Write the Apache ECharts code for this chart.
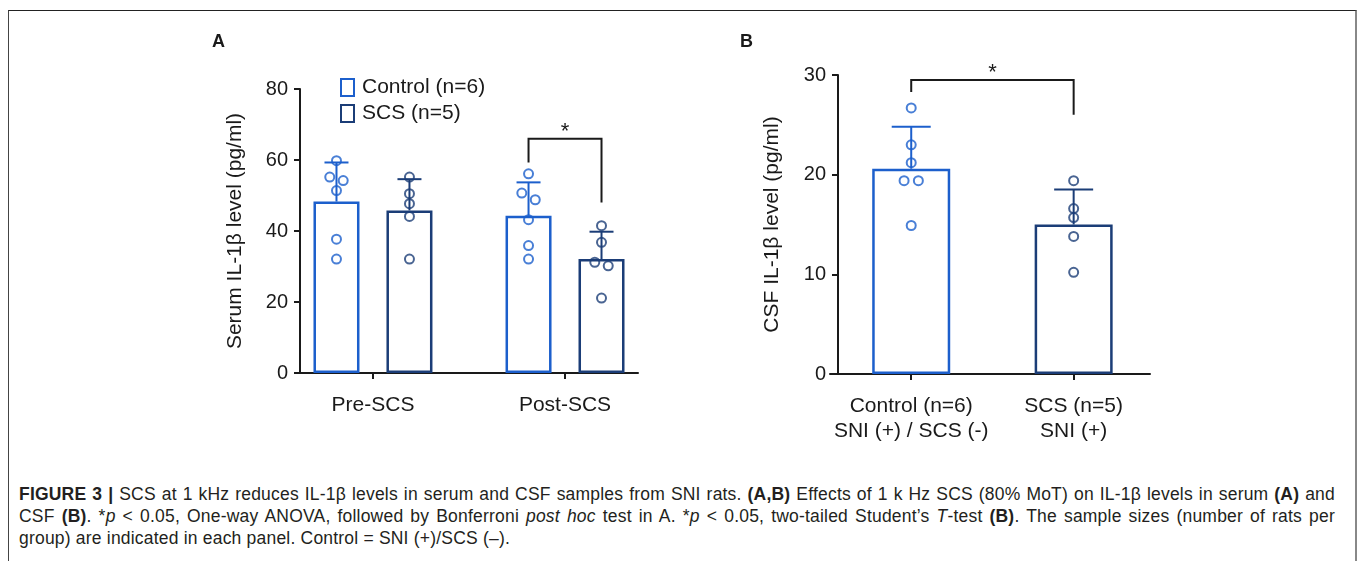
<!DOCTYPE html>
<html>
<head>
<meta charset="utf-8">
<script src="https://cdn.jsdelivr.net/npm/echarts@6/dist/echarts.min.js"></script>
<style>
body { margin: 0; background: #fff; }
#frame { position: absolute; left: 8px; top: 10px; width: 1346px; height: 600px; border-top: 1px solid #222; border-left: 1px solid #444; border-right: 2px solid #888; }
#chart { position: absolute; left: 0; top: 0; width: 1358px; height: 470px; }
#caption { position: absolute; left: 19px; top: 483px; width: 1316px; font-family: 'Liberation Sans', Arial, sans-serif; font-size: 17.5px; letter-spacing: 0.2px; line-height: 22px; color: #231f20; }
#caption div { white-space: nowrap; }
#caption .j { text-align: justify; text-align-last: justify; }
</style>
</head>
<body>
<div id="frame"></div>
<div id="chart"></div>
<div id="caption">
  <div class="j"><b>FIGURE 3 |</b> SCS at 1 kHz reduces IL-1β levels in serum and CSF samples from SNI rats. <b>(A,B)</b> Effects of 1 k Hz SCS (80% MoT) on IL-1β levels in serum <b>(A)</b> and</div>
  <div class="j">CSF <b>(B)</b>. *<i>p</i> &lt; 0.05, One-way ANOVA, followed by Bonferroni <i>post hoc</i> test in A. *<i>p</i> &lt; 0.05, two-tailed Student’s <i>T</i>-test <b>(B)</b>. The sample sizes (number of rats per</div>
  <div>group) are indicated in each panel. Control = SNI (+)/SCS (–).</div>
</div>
<script>
// panel A: serum
var groupsA = ['Pre-SCS', 'Post-SCS'];
var ctrlMeanA = [48.3, 44.3];
var ctrlSdTopA = [59.3, 53.7];
var scsMeanA = [45.8, 32.1];
var scsSdTopA = [54.6, 39.8];
var ctrlPtsA = [[59.8, 55.2, 54.2, 51.4, 37.7, 32.1], [56.1, 50.7, 48.8, 43.2, 35.9, 32.1]];
var scsPtsA = [[55.2, 50.5, 47.7, 44.1, 32.1], [41.5, 36.8, 31.2, 30.2, 21.1]];
var ticksA = [0, 20, 40, 60, 80];
var bracketA = [66, 59.3, 48];   // top, left leg end, right leg end

// panel B: CSF
var groupsB = ['Control (n=6)\nSNI (+) / SCS (-)', 'SCS (n=5)\nSNI (+)'];
var meanB = [20.6, 15.0];
var sdTopB = [24.8, 18.5];
var ptsB = [[26.7, 23.0, 21.2, 19.4, 19.4, 14.9], [19.4, 16.6, 15.7, 13.8, 10.2]];
var ticksB = [0, 10, 20, 30];
var bracketB = [29.5, 28.3, 26.0];

var BLUE = '#1c5fcc';
var NAVY = '#1b3d77';
var INK = '#1a1a1a';
var FONT = "'Liberation Sans', Arial, sans-serif";

var offA = 0.19;     // bar offset from group centre (axis units)
var jitA = 0.035, jitB = 0.044;

// spread pairs of nearly equal values left/right so the circles don't sit on top of each other
function jitterSides(vals, thr) {
    var sides = vals.map(function () { return 0; });
    var order = vals.map(function (v, i) { return i; }).sort(function (a, b) { return vals[b] - vals[a]; });
    for (var k = 0; k < order.length - 1; k++) {
        var a = order[k], b = order[k + 1];
        if (vals[a] - vals[b] < thr) { sides[a] = -1; sides[b] = 1; k++; }
    }
    return sides;
}

function pointData(ptsByGroup, offset, jit, thr) {
    var out = [];
    ptsByGroup.forEach(function (vals, g) {
        var sides = jitterSides(vals, thr);
        vals.forEach(function (v, i) { out.push([g + offset + sides[i] * jit, v]); });
    });
    return out;
}

function errorSeries(axis, data, color, capHalf) {
    return {
        type: 'custom', xAxisIndex: axis, yAxisIndex: axis, z: 3, silent: true,
        encode: { x: 0, y: [1, 2] },
        data: data,
        renderItem: function (params, api) {
            var base = api.coord([api.value(0), api.value(1)]);
            var top = api.coord([api.value(0), api.value(2)]);
            var st = { stroke: color, lineWidth: 2 };
            return { type: 'group', children: [
                { type: 'line', shape: { x1: base[0], y1: base[1], x2: top[0], y2: top[1] }, style: st },
                { type: 'line', shape: { x1: top[0] - capHalf, y1: top[1], x2: top[0] + capHalf, y2: top[1] }, style: st }
            ] };
        }
    };
}

function bracketSeries(axis, x1, x2, br) {
    return {
        type: 'custom', xAxisIndex: axis, yAxisIndex: axis, z: 5, silent: true,
        encode: { x: [0, 1], y: [2, 3, 4] },
        data: [[x1, x2, br[0], br[1], br[2]]],
        renderItem: function (params, api) {
            var l0 = api.coord([api.value(0), api.value(3)]);
            var l1 = api.coord([api.value(0), api.value(2)]);
            var r1 = api.coord([api.value(1), api.value(2)]);
            var r0 = api.coord([api.value(1), api.value(4)]);
            return { type: 'group', children: [
                { type: 'polyline', shape: { points: [l0, l1, r1, r0] }, style: { stroke: INK, lineWidth: 2, fill: null } },
                { type: 'text', x: (l1[0] + r1[0]) / 2, y: l1[1] + 4, style: { text: '*', font: '22px ' + FONT, fill: INK, align: 'center', verticalAlign: 'bottom' } }
            ] };
        }
    };
}

function barData(means, offset, color) {
    return means.map(function (m, g) {
        return { value: [g + offset, m], itemStyle: { borderColor: color } };
    });
}

function sdData(means, tops, offset) {
    return means.map(function (m, g) { return [g + offset, m, tops[g]]; });
}

function yAxisOf(grid, ticks, name, gap, shift) {
    return {
        type: 'value', gridIndex: grid, min: ticks[0], max: ticks[ticks.length - 1],
        interval: ticks[1] - ticks[0], offset: -shift,
        name: name, nameLocation: 'middle', nameGap: gap,
        nameTextStyle: { fontSize: 21, color: INK, fontFamily: FONT },
        axisLine: { show: true, onZero: false, lineStyle: { color: INK, width: 2 } },
        axisTick: { show: true, length: 6, lineStyle: { color: INK, width: 2 } },
        axisLabel: { fontSize: 20, color: INK, fontFamily: FONT, margin: 12 },
        splitLine: { show: false }
    };
}

function xAxisOf(grid, labels, min, max) {
    return {
        type: 'value', gridIndex: grid, min: min, max: max,
        axisLine: { show: true, onZero: false, lineStyle: { color: INK, width: 2 } },
        axisTick: { show: true, length: 6, customValues: [0, 1], lineStyle: { color: INK, width: 2 } },
        axisLabel: {
            customValues: [0, 1], fontSize: 21, lineHeight: 25, color: INK, fontFamily: FONT, margin: 20,
            formatter: function (v) { return labels[Math.round(v)]; }
        },
        splitLine: { show: false }
    };
}

var barStyle = { color: '#fff', borderWidth: 2.5 };
var dotStyle = { color: 'rgba(255,255,255,0)', borderWidth: 2 };

var option = {
    animation: false,
    backgroundColor: 'transparent',
    textStyle: { fontFamily: FONT },
    grid: [
        { left: 295, top: 89, width: 343, height: 284 },
        { left: 830, top: 75, width: 320, height: 299 }
    ],
    xAxis: [xAxisOf(0, groupsA, -0.406, 1.38), xAxisOf(1, groupsB, -0.5, 1.47)],
    yAxis: [yAxisOf(0, ticksA, 'Serum IL-1β level (pg/ml)', 54, 5), yAxisOf(1, ticksB, 'CSF IL-1β level (pg/ml)', 55, 8)],
    legend: {
        data: ['Control (n=6)', 'SCS (n=5)'],
        orient: 'vertical', left: 340, top: 77, padding: 0, icon: 'rect',
        itemWidth: 13, itemHeight: 17, itemGap: 5,
        textStyle: { fontSize: 21, color: INK, fontFamily: FONT, padding: [0, 0, 0, 3] }
    },
    graphic: [
        { type: 'text', left: 212, top: 33, style: { text: 'A', font: 'bold 18px ' + FONT, fill: INK } },
        { type: 'text', left: 740, top: 33, style: { text: 'B', font: 'bold 18px ' + FONT, fill: INK } }
    ],
    series: [
        { name: 'Control (n=6)', type: 'bar', xAxisIndex: 0, yAxisIndex: 0, barWidth: 46, barGap: '-100%',
          itemStyle: Object.assign({ borderColor: BLUE }, barStyle), data: barData(ctrlMeanA, -offA, BLUE) },
        { name: 'SCS (n=5)', type: 'bar', xAxisIndex: 0, yAxisIndex: 0, barWidth: 46, barGap: '-100%',
          itemStyle: Object.assign({ borderColor: NAVY }, barStyle), data: barData(scsMeanA, offA, NAVY) },
        errorSeries(0, sdData(ctrlMeanA, ctrlSdTopA, -offA), BLUE, 12),
        errorSeries(0, sdData(scsMeanA, scsSdTopA, offA), NAVY, 12),
        { name: 'ctrl points A', type: 'scatter', xAxisIndex: 0, yAxisIndex: 0, z: 4, symbolSize: 9,
          itemStyle: Object.assign({ borderColor: BLUE }, dotStyle), data: pointData(ctrlPtsA, -offA, jitA, 2) },
        { name: 'scs points A', type: 'scatter', xAxisIndex: 0, yAxisIndex: 0, z: 4, symbolSize: 9,
          itemStyle: Object.assign({ borderColor: NAVY }, dotStyle), data: pointData(scsPtsA, offA, jitA, 2) },
        bracketSeries(0, 1 - offA, 1 + offA, bracketA),

        { name: 'CSF', type: 'bar', xAxisIndex: 1, yAxisIndex: 1, barWidth: 78,
          itemStyle: barStyle, data: [
              { value: [0, meanB[0]], itemStyle: { borderColor: BLUE } },
              { value: [1, meanB[1]], itemStyle: { borderColor: NAVY } }
          ] },
        errorSeries(1, [[0, meanB[0], sdTopB[0]]], BLUE, 19.5),
        errorSeries(1, [[1, meanB[1], sdTopB[1]]], NAVY, 19.5),
        { name: 'ctrl points B', type: 'scatter', xAxisIndex: 1, yAxisIndex: 1, z: 4, symbolSize: 9,
          itemStyle: Object.assign({ borderColor: BLUE }, dotStyle), data: pointData([ptsB[0]], 0, jitB, 0.5) },
        { name: 'scs points B', type: 'scatter', xAxisIndex: 1, yAxisIndex: 1, z: 4, symbolSize: 9,
          itemStyle: Object.assign({ borderColor: NAVY }, dotStyle), data: pointData([ptsB[1]], 1, jitB, 0.5) },
        bracketSeries(1, 0, 1, bracketB)
    ]
};

var chart = echarts.init(document.getElementById('chart'));
chart.setOption(option);
</script>
</body>
</html>
